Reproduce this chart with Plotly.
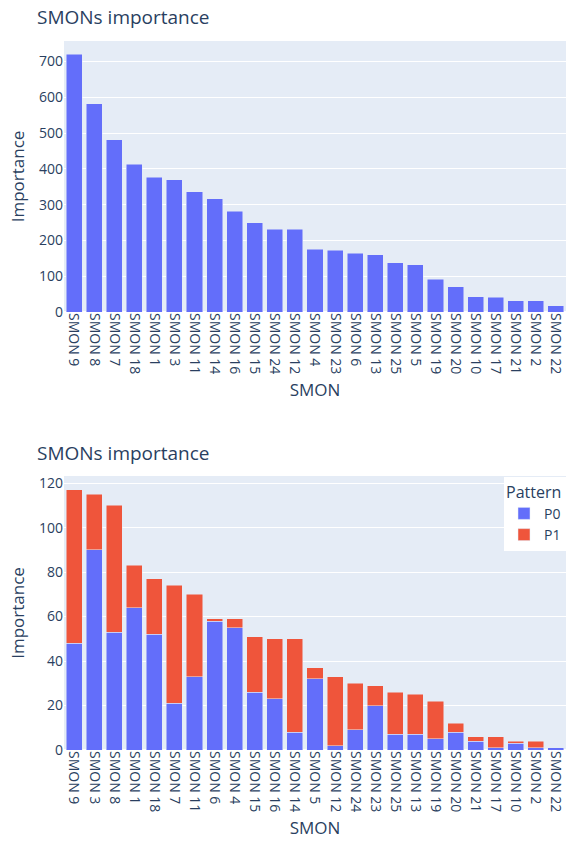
import plotly.graph_objects as go

# ---- Data: chart 1 (total importance) ----
smons_total = ["SMON 9", "SMON 8", "SMON 7", "SMON 18", "SMON 1", "SMON 3", "SMON 11",
               "SMON 14", "SMON 16", "SMON 15", "SMON 24", "SMON 12", "SMON 4", "SMON 23",
               "SMON 6", "SMON 13", "SMON 25", "SMON 5", "SMON 19", "SMON 20", "SMON 10",
               "SMON 17", "SMON 21", "SMON 2", "SMON 22"]
importance_total = [721, 582, 482, 413, 376, 370, 336, 317, 281, 250, 231, 231, 176, 173,
                    164, 160, 138, 132, 92, 71, 42, 41, 32, 32, 17]

# ---- Data: chart 2 (by pattern) ----
smons_pattern = ["SMON 9", "SMON 3", "SMON 8", "SMON 1", "SMON 18", "SMON 7", "SMON 11",
                 "SMON 6", "SMON 4", "SMON 15", "SMON 16", "SMON 14", "SMON 5", "SMON 12",
                 "SMON 24", "SMON 23", "SMON 25", "SMON 13", "SMON 19", "SMON 20", "SMON 21",
                 "SMON 17", "SMON 10", "SMON 2", "SMON 22"]
p0_values = [48, 90, 53, 64, 52, 21, 33, 58, 55, 26, 23, 8, 32, 2, 9, 20, 7, 7, 5, 8, 4, 1, 3, 1, 1]
p1_values = [69, 25, 57, 19, 25, 53, 37, 1, 4, 25, 27, 42, 5, 31, 21, 9, 19, 18, 17, 4, 2, 5, 1, 3, 0]

W, H = 566, 846
FONT = "Open Sans, verdana, arial, sans-serif"
TXT = "#2a3f5f"

def px_x(v):
    return v / W

def px_y(v):
    return 1 - v / H

fig = go.Figure()
fig.add_trace(go.Bar(x=smons_total, y=importance_total, marker_color="#636efa",
                     showlegend=False, xaxis="x", yaxis="y", name="Importance"))
fig.add_trace(go.Bar(x=smons_pattern, y=p0_values, marker_color="#636efa",
                     name="P0", xaxis="x2", yaxis="y2"))
fig.add_trace(go.Bar(x=smons_pattern, y=p1_values, marker_color="#EF553B",
                     name="P1", xaxis="x2", yaxis="y2"))

tickfont = dict(size=14, family=FONT, color=TXT)
titlefont = dict(size=17, family=FONT, color=TXT)

xcommon = dict(tickangle=90, tickfont=tickfont, showgrid=False, automargin=False,
               ticks="", title_font=titlefont, title_standoff=10)
ycommon = dict(tickfont=tickfont, automargin=False, gridcolor="white",
               title_font=titlefont, title_standoff=10, zerolinecolor="white",
               zerolinewidth=2)

fig.update_layout(
    width=W, height=H,
    template="plotly",
    barmode="stack",
    bargap=0.2,
    margin=dict(l=0, r=0, t=0, b=0),
    font=dict(family=FONT, color=TXT),
    plot_bgcolor="#E5ECF6",
    paper_bgcolor="white",
    xaxis=dict(domain=[px_x(64), 1], anchor="y", title_text="SMON", **xcommon),
    yaxis=dict(domain=[px_y(312), px_y(41)], anchor="x", title_text="Importance",
               range=[0, 757.5], dtick=100, **ycommon),
    xaxis2=dict(domain=[px_x(64), 1], anchor="y2", title_text="SMON", **xcommon),
    yaxis2=dict(domain=[px_y(750), px_y(476)], anchor="x2", title_text="Importance",
                range=[0, 123.2], dtick=20, **ycommon),
    legend=dict(title=dict(text="Pattern", font=dict(size=16, family=FONT, color=TXT)),
                font=dict(size=14, family=FONT, color=TXT),
                traceorder="normal",
                x=1, xanchor="right", y=px_y(477), yanchor="top",
                bgcolor="white", tracegroupgap=0),
    annotations=[
        dict(text="SMONs importance", xref="paper", yref="paper", x=px_x(35), y=px_y(17),
             xanchor="left", yanchor="middle", showarrow=False,
             font=dict(size=19, family=FONT, color=TXT)),
        dict(text="SMONs importance", xref="paper", yref="paper", x=px_x(35), y=px_y(453),
             xanchor="left", yanchor="middle", showarrow=False,
             font=dict(size=19, family=FONT, color=TXT)),
    ],
)

fig.write_html("out.html", config={"displayModeBar": False},
               post_script="document.body.style.margin='0';document.body.style.overflow='hidden';")
